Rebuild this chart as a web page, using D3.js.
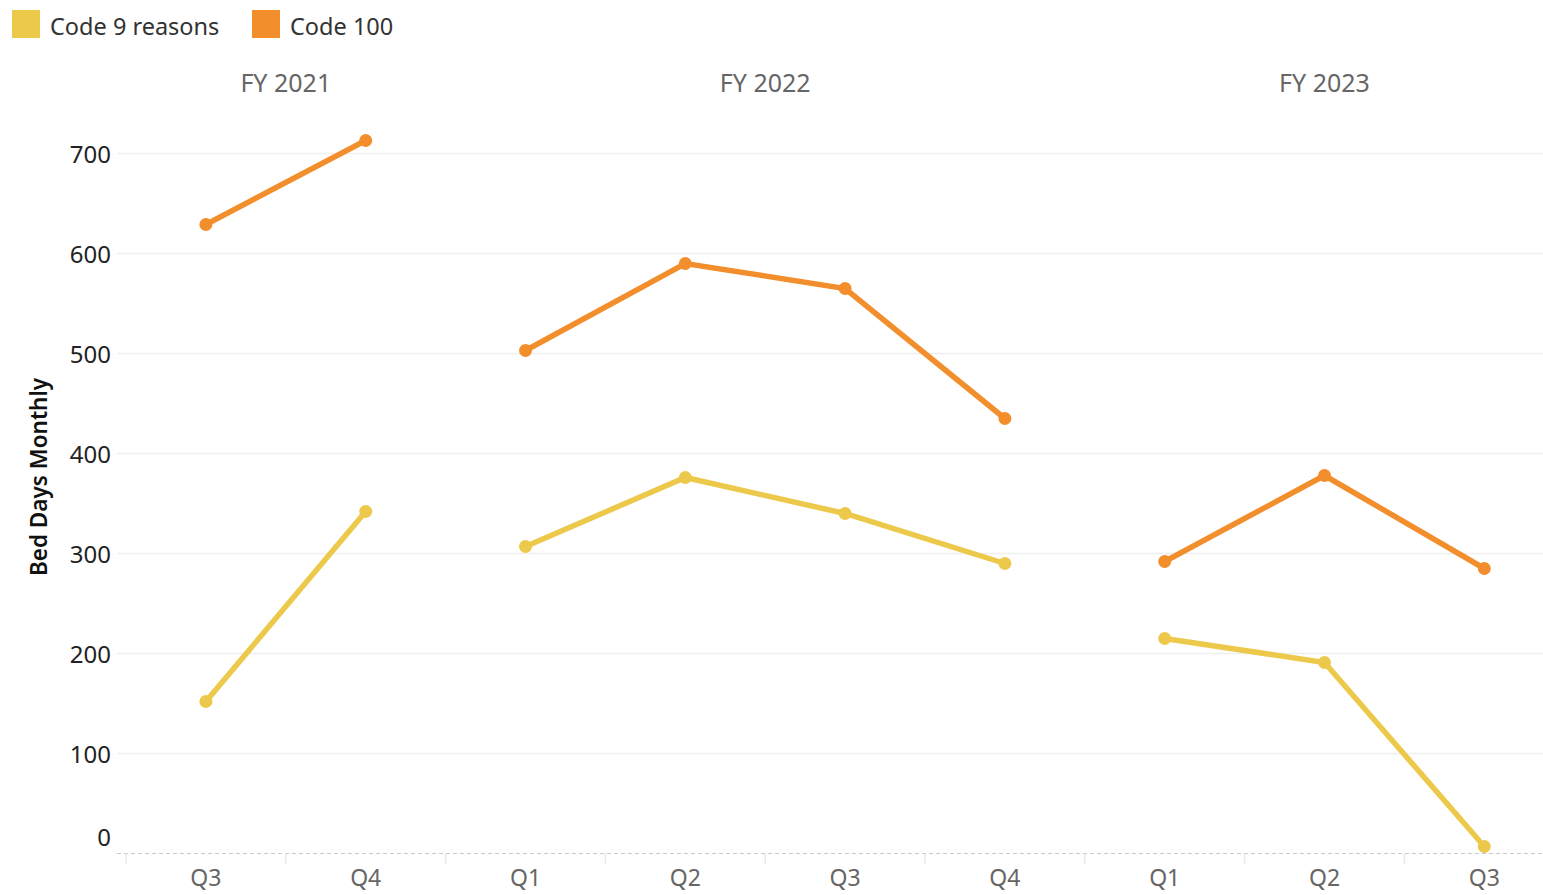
<!DOCTYPE html>
<html>
<head>
<meta charset="utf-8">
<script src="https://cdn.jsdelivr.net/npm/d3@7"></script>
<style>
  body { margin: 0; background: #fff; overflow: hidden; }
  svg text { font-family: "Noto Sans", "Open Sans", sans-serif; }
</style>
</head>
<body>
<div id="chart"></div>
<script>
// Data
const seriesNames = ["Code 9 reasons", "Code 100"];
const seriesColors = ["#ECC94B", "#F28E2B"];
const fiscalYears = ["FY 2021", "FY 2022", "FY 2023"];
const periodFY = ["FY 2021", "FY 2021", "FY 2022", "FY 2022", "FY 2022", "FY 2022", "FY 2023", "FY 2023", "FY 2023"];
const periodQ = ["Q3", "Q4", "Q1", "Q2", "Q3", "Q4", "Q1", "Q2", "Q3"];
const code9 = [152, 342, 307, 376, 340, 290, 215, 191, 7];
const code100 = [629, 713, 503, 590, 565, 435, 292, 378, 285];
const yTicks = [0, 100, 200, 300, 400, 500, 600, 700];

const width = 1543, height = 895;
const plotLeft = 117, bandStart = 126, bandWidth = 159.8;

const svg = d3.select("#chart")
    .append("svg")
    .attr("width", width)
    .attr("height", height);

// Scales
const keys = periodFY.map((fy, i) => fy + "|" + periodQ[i]);
const x = d3.scaleBand()
    .domain(keys)
    .range([bandStart, bandStart + bandWidth * keys.length])
    .padding(0);

const y = d3.scaleLinear()
    .domain([0, 700])
    .range([853.5, 153.5]);

// Gridlines
svg.append("g")
    .selectAll("line")
    .data(yTicks.filter(d => d > 0))
    .enter()
    .append("line")
    .attr("x1", plotLeft)
    .attr("x2", width)
    .attr("y1", d => y(d))
    .attr("y2", d => y(d))
    .attr("stroke", "#efefef")
    .attr("stroke-width", 1.5);

// Y axis labels
const yAxis = svg.append("g")
    .attr("transform", `translate(${plotLeft},0)`)
    .call(d3.axisLeft(y).tickValues(yTicks).tickSize(0).tickPadding(6));
yAxis.select(".domain").remove();
yAxis.selectAll("text")
    .attr("font-size", 24)
    .attr("fill", "#222")
    .attr("dy", d => d === 0 ? "-0.32em" : "0.38em");

// Y axis title
svg.append("text")
    .attr("transform", "translate(47,477) rotate(-90)")
    .attr("text-anchor", "middle")
    .attr("font-size", 22.5)
    .attr("font-weight", 600)
    .attr("fill", "#111")
    .text("Bed Days Monthly");

// Zero line (dashed) and band ticks
svg.append("line")
    .attr("x1", plotLeft)
    .attr("x2", width)
    .attr("y1", y(0))
    .attr("y2", y(0))
    .attr("stroke", "#c8c8c8")
    .attr("stroke-width", 1)
    .attr("stroke-dasharray", "4,3");

svg.append("g")
    .selectAll("line")
    .data(keys)
    .enter()
    .append("line")
    .attr("x1", d => x(d))
    .attr("x2", d => x(d))
    .attr("y1", y(0))
    .attr("y2", y(0) + 10)
    .attr("stroke", "#e8e8e8")
    .attr("stroke-width", 1.5);

// X axis quarter labels
svg.append("g")
    .selectAll("text")
    .data(keys)
    .enter()
    .append("text")
    .attr("x", d => x(d) + x.bandwidth() / 2)
    .attr("y", 886)
    .attr("text-anchor", "middle")
    .attr("font-size", 23)
    .attr("fill", "#666")
    .text((d, i) => periodQ[i]);

// Fiscal year headers
svg.append("g")
    .selectAll("text")
    .data(fiscalYears)
    .enter()
    .append("text")
    .attr("x", fy => {
        const k = keys.filter((d, i) => periodFY[i] === fy);
        return (x(k[0]) + x(k[k.length - 1]) + x.bandwidth()) / 2;
    })
    .attr("y", 92)
    .attr("text-anchor", "middle")
    .attr("font-size", 25)
    .attr("fill", "#666")
    .text(d => d);

// Lines and points, broken by fiscal year
const line = d3.line()
    .x(d => x(d.key) + x.bandwidth() / 2)
    .y(d => y(d.value));

[code9, code100].forEach((values, s) => {
    const pts = values.map((v, i) => ({ key: keys[i], fy: periodFY[i], value: v }));
    const g = svg.append("g");
    fiscalYears.forEach(fy => {
        g.append("path")
            .datum(pts.filter(p => p.fy === fy))
            .attr("d", line)
            .attr("fill", "none")
            .attr("stroke", seriesColors[s])
            .attr("stroke-width", 5.5);
    });
    g.selectAll("circle")
        .data(pts)
        .enter()
        .append("circle")
        .attr("cx", d => x(d.key) + x.bandwidth() / 2)
        .attr("cy", d => y(d.value))
        .attr("r", 6.5)
        .attr("fill", seriesColors[s]);
});

// Legend
const legendX = [12, 252];
const legend = svg.append("g")
    .selectAll("g")
    .data(seriesNames)
    .enter()
    .append("g")
    .attr("transform", (d, i) => `translate(${legendX[i]},10)`);
legend.append("rect")
    .attr("width", 28)
    .attr("height", 28)
    .attr("fill", (d, i) => seriesColors[i]);
legend.append("text")
    .attr("x", 38)
    .attr("y", 25)
    .attr("font-size", 23.5)
    .attr("fill", "#333")
    .text(d => d);
</script>
</body>
</html>
